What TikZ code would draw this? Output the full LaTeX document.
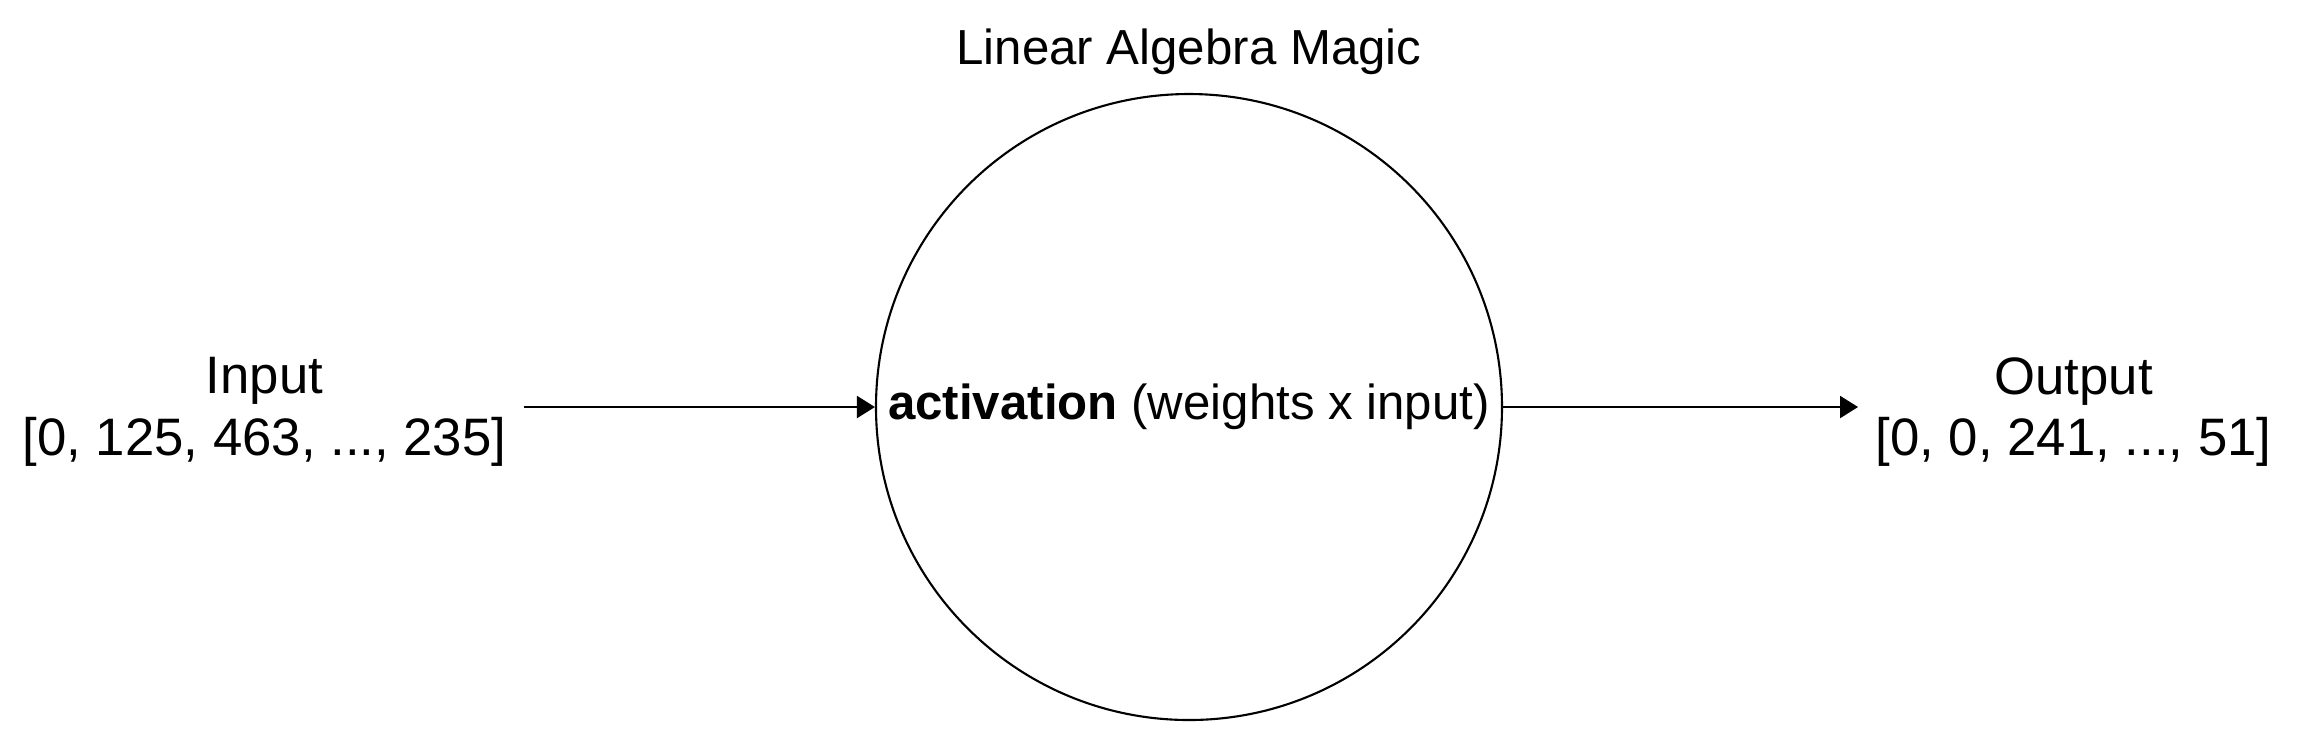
\documentclass[tikz,border=0pt]{standalone}
\usepackage{fontspec}
\setmainfont{Liberation Sans}
\usetikzlibrary{arrows.meta,positioning}
\tikzset{
    neuron/.style={circle, draw, line width=0.6pt, minimum size=6.26cm, inner sep=0pt, align=center},
    vec/.style={rectangle, align=center, inner sep=1.7mm, font=\fontsize{15}{17.5}\selectfont},
    flow/.style={-{Triangle[length=1.8mm, width=2.2mm]}, line width=0.6pt},
}

\begin{document}
\begin{tikzpicture}[font=\fontsize{14}{18}\selectfont]
    \useasboundingbox (0,0) rectangle (23.02,-7.49);
    \node[neuron] (magic) at (11.89,-4.07) {\textbf{activation} (weights x input)};
    \node[above=0.06cm of magic] (title) {Linear Algebra Magic};
    \node[vec, left=3.51cm of magic, yshift=-0.05cm] (input) {Input\\{}[0, 125, 463, ..., 235]};
    \node[vec, right=3.55cm of magic, yshift=-0.05cm] (output) {Output\\{}[0, 0, 241, ..., 51]};

    \draw[flow] (input.east |- magic.west) -- (magic.west);
    \draw[flow] (magic.east) -- (output.west |- magic.east);
\end{tikzpicture}
\end{document}
